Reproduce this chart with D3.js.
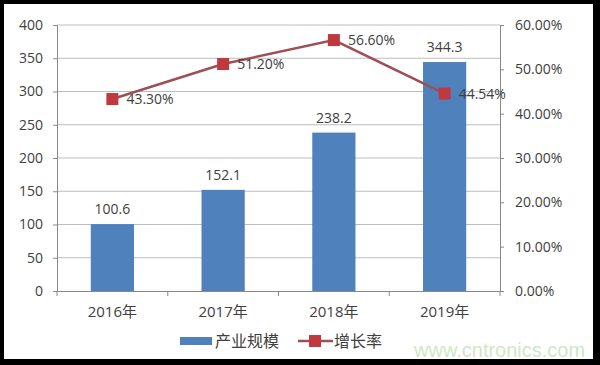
<!DOCTYPE html>
<html>
<head>
<meta charset="utf-8">
<script src="https://cdn.jsdelivr.net/npm/d3@7"></script>
<style>
  html, body { margin: 0; padding: 0; background: #000; }
  svg { display: block; }
  text { font-family: "Open Sans", "Noto Sans CJK SC", sans-serif; fill: #404040; }
</style>
</head>
<body>
<div id="chart"></div>
<script>
"use strict";

/* ── Data ── */
const years     = ["2016年", "2017年", "2018年", "2019年"];
const scale     = [100.6, 152.1, 238.2, 344.3];          // 产业规模
const growth    = [0.433, 0.512, 0.566, 0.4454];         // 增长率
const growthTxt = ["43.30%", "51.20%", "56.60%", "44.54%"];
const leftTicks  = [0, 50, 100, 150, 200, 250, 300, 350, 400];
const rightTicks = [0, 0.1, 0.2, 0.3, 0.4, 0.5, 0.6];

const W = 600, H = 365;
const margin = { top: 25, right: 100, bottom: 74, left: 57 };
const width  = W - margin.left - margin.right;
const height = H - margin.top - margin.bottom;

const barColor  = "#4f81bd";
const lineColor = "#9c5056";
const markColor = "#c0393e";

const root = d3.select("#chart").append("svg")
  .attr("width", W).attr("height", H);

/* ── Frame ── */
root.append("rect").attr("width", W).attr("height", H).attr("fill", "#000");
root.append("rect")
  .attr("x", 4).attr("y", 4).attr("width", 589).attr("height", 355)
  .attr("fill", "#fff");

const svg = root.append("g")
  .attr("transform", `translate(${margin.left},${margin.top})`);

/* ── Scales ── */
const x  = d3.scaleBand().domain(years).range([0, width]).paddingInner(0.61).paddingOuter(0.305);
const xb = d3.scaleBand().domain(years).range([0, width]);
const yL = d3.scaleLinear().domain([0, 400]).range([height, 0]);
const yR = d3.scaleLinear().domain([0, 0.6]).range([height, 0]);

/* ── Gridlines ── */
svg.append("g")
  .selectAll("line")
  .data(leftTicks.filter(d => d > 0))
  .join("line")
  .attr("x1", 0).attr("x2", width)
  .attr("y1", d => yL(d)).attr("y2", d => yL(d))
  .attr("stroke", "#bdbdbd").attr("stroke-width", 1);

/* ── Left axis ── */
svg.append("g")
  .call(d3.axisLeft(yL).tickValues(leftTicks).tickSize(4).tickPadding(10))
  .call(g => {
    g.select(".domain").attr("stroke", "#888");
    g.selectAll(".tick line").attr("stroke", "#888");
    g.selectAll(".tick text").attr("font-size", "14px").attr("fill", "#404040")
      .style("font-family", "'Open Sans', sans-serif");
  });

/* ── Right axis ── */
svg.append("g")
  .attr("transform", `translate(${width},0)`)
  .call(d3.axisRight(yR).tickValues(rightTicks).tickSize(4).tickPadding(11)
    .tickFormat(d => (d * 100).toFixed(2) + "%"))
  .call(g => {
    g.select(".domain").attr("stroke", "#888");
    g.selectAll(".tick line").attr("stroke", "#888");
    g.selectAll(".tick text").attr("font-size", "14px").attr("fill", "#404040")
      .style("font-family", "'Open Sans', sans-serif");
  });

/* ── Bottom axis ── */
svg.append("g")
  .attr("transform", `translate(0,${height})`)
  .call(d3.axisBottom(xb).tickSize(0).tickPadding(15))
  .call(g => {
    g.select(".domain").attr("stroke", "#888");
    g.selectAll(".tick text").attr("font-size", "15px").attr("fill", "#404040")
      .style("font-family", "'Open Sans', 'Noto Sans CJK SC', sans-serif");
  });

svg.append("g")
  .selectAll("line")
  .data(years)
  .join("line")
  .attr("x1", d => xb(d)).attr("x2", d => xb(d))
  .attr("y1", height).attr("y2", height + 5)
  .attr("stroke", "#888");
svg.append("line")
  .attr("x1", width).attr("x2", width)
  .attr("y1", height).attr("y2", height + 5)
  .attr("stroke", "#888");

/* ── Bars ── */
svg.selectAll(".bar")
  .data(scale)
  .join("rect")
  .attr("class", "bar")
  .attr("x", (d, i) => x(years[i]))
  .attr("y", d => yL(d))
  .attr("width", x.bandwidth())
  .attr("height", d => height - yL(d))
  .attr("fill", barColor);

svg.selectAll(".bar-label")
  .data(scale)
  .join("text")
  .attr("class", "bar-label")
  .attr("x", (d, i) => x(years[i]) + x.bandwidth() / 2)
  .attr("y", d => yL(d) - 10)
  .attr("text-anchor", "middle")
  .attr("font-size", "14px")
  .text(d => d.toFixed(1));

/* ── Growth line ── */
const cx = (d, i) => xb(years[i]) + xb.bandwidth() / 2;
const line = d3.line().x(cx).y(d => yR(d));

svg.append("path")
  .datum(growth)
  .attr("d", line)
  .attr("fill", "none")
  .attr("stroke", lineColor)
  .attr("stroke-width", 2.5);

svg.selectAll(".marker")
  .data(growth)
  .join("rect")
  .attr("class", "marker")
  .attr("x", (d, i) => cx(d, i) - 6)
  .attr("y", d => yR(d) - 6)
  .attr("width", 12).attr("height", 12)
  .attr("fill", markColor);

svg.selectAll(".growth-label")
  .data(growth)
  .join("text")
  .attr("class", "growth-label")
  .attr("x", (d, i) => cx(d, i) + 14)
  .attr("y", d => yR(d) + 5)
  .attr("font-size", "14px")
  .text((d, i) => growthTxt[i]);

/* ── Legend ── */
const lg = root.append("g").attr("transform", "translate(0,341)");
lg.append("rect")
  .attr("x", 180).attr("y", -4).attr("width", 32).attr("height", 8)
  .attr("fill", barColor);
lg.append("text")
  .attr("x", 215).attr("y", 6)
  .attr("font-size", "16px")
  .style("font-family", "'Noto Sans CJK SC', sans-serif")
  .text("产业规模");
lg.append("line")
  .attr("x1", 298).attr("x2", 333).attr("y1", 0).attr("y2", 0)
  .attr("stroke", lineColor).attr("stroke-width", 2.5);
lg.append("rect")
  .attr("x", 309).attr("y", -6).attr("width", 12).attr("height", 12)
  .attr("fill", markColor);
lg.append("text")
  .attr("x", 334).attr("y", 6)
  .attr("font-size", "16px")
  .style("font-family", "'Noto Sans CJK SC', sans-serif")
  .text("增长率");

/* ── Watermark ── */
root.append("text")
  .attr("x", 414).attr("y", 357)
  .attr("font-size", "20px")
  .style("font-family", "'Liberation Sans', sans-serif")
  .style("fill", "#cfe8c4")
  .text("www.cntronics.com");
</script>
</body>
</html>
